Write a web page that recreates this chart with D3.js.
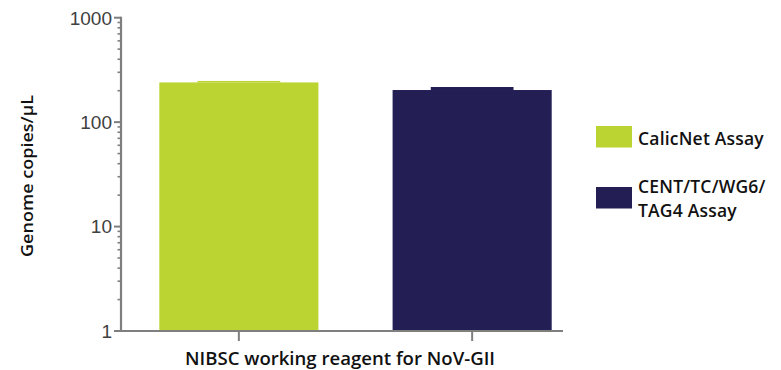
<!DOCTYPE html>
<html><head><meta charset="utf-8">
<script src="https://cdn.jsdelivr.net/npm/d3@7"></script>
<style>body{margin:0;background:#fff}svg{display:block}</style>
</head><body>
<script>
const categories = ["NIBSC working reagent for NoV-GII"];
const seriesNames = ["CalicNet Assay", "CENT/TC/WG6/TAG4 Assay"];
const seriesLabelLines = [["CalicNet Assay"], ["CENT/TC/WG6/", "TAG4 Assay"]];
const meanValues = [240, 203];
const upperValues = [248, 217];
const colors = ["#bcd432", "#231f54"];
const yTicks = [1, 10, 100, 1000];

const W = 781, H = 370;
const svg = d3.select("body").append("svg").attr("width", W).attr("height", H);

const y = d3.scaleLog().domain([1, 1000]).range([331, 17.7]);
const xBar = d3.scaleBand().domain(seriesNames).range([159.3, 551.7]).paddingInner(0.318).paddingOuter(0);
const axisColor = "#7f7f7f";

// bars
svg.selectAll("rect.bar").data(seriesNames).join("rect")
  .attr("class", "bar")
  .attr("x", d => xBar(d))
  .attr("width", xBar.bandwidth())
  .attr("y", (d, i) => y(meanValues[i]))
  .attr("height", (d, i) => y(1) - y(meanValues[i]))
  .attr("fill", (d, i) => colors[i]);

// error caps (same colour as bars)
const capW = xBar.bandwidth() * 0.52;
svg.selectAll("rect.cap").data(seriesNames).join("rect")
  .attr("class", "cap")
  .attr("x", d => xBar(d) + xBar.bandwidth() / 2 - capW / 2)
  .attr("width", capW)
  .attr("y", (d, i) => y(upperValues[i]))
  .attr("height", (d, i) => Math.max(1.5, y(meanValues[i]) - y(upperValues[i])))
  .attr("fill", (d, i) => colors[i]);

// y axis
const yAxisX = 121;
const yg = svg.append("g").attr("transform", `translate(${yAxisX},0)`);
const minor = [];
for (let d = 1; d < 1000; d *= 10) for (let k = 2; k <= 9; k++) minor.push(d * k);
yg.selectAll("line.minor").data(minor).join("line")
  .attr("x1", -3.5).attr("x2", 0).attr("y1", d => y(d)).attr("y2", d => y(d))
  .attr("stroke", axisColor).attr("stroke-width", 1.6);
yg.selectAll("line.major").data(yTicks).join("line")
  .attr("x1", -7).attr("x2", 0).attr("y1", d => y(d)).attr("y2", d => y(d))
  .attr("stroke", axisColor).attr("stroke-width", 2);
yg.append("line").attr("x1", 0).attr("x2", 0).attr("y1", y(1000) - 1).attr("y2", y(1) + 1)
  .attr("stroke", axisColor).attr("stroke-width", 2.2);
yg.selectAll("text.tl").data(yTicks).join("text")
  .attr("x", -9).attr("y", d => y(d)).attr("dy", "0.36em")
  .attr("text-anchor", "end")
  .attr("font-family", "Liberation Sans, Arial, sans-serif").attr("font-size", 19)
  .attr("fill", "#404040").text(d => d);

// x axis
svg.append("line").attr("x1", yAxisX).attr("x2", 563).attr("y1", y(1)).attr("y2", y(1))
  .attr("stroke", axisColor).attr("stroke-width", 2.2);
svg.selectAll("line.xt").data(seriesNames).join("line")
  .attr("x1", d => xBar(d) + xBar.bandwidth() / 2).attr("x2", d => xBar(d) + xBar.bandwidth() / 2)
  .attr("y1", y(1)).attr("y2", y(1) + 10)
  .attr("stroke", axisColor).attr("stroke-width", 2);
svg.append("text").attr("x", 340).attr("y", 365).attr("text-anchor", "middle")
  .attr("font-family", "Open Sans, sans-serif").attr("font-weight", 600).attr("font-size", 18.5)
  .attr("textLength", 310).attr("lengthAdjust", "spacingAndGlyphs")
  .attr("fill", "#111").text(categories[0]);

// y title
svg.append("text").attr("transform", "translate(33,176) rotate(-90)").attr("text-anchor", "middle")
  .attr("font-family", "Open Sans, sans-serif").attr("font-weight", 600).attr("font-size", 16.5).attr("fill", "#111")
  .attr("textLength", 162).attr("lengthAdjust", "spacingAndGlyphs")
  .text("Genome copies/µL");

// legend
const lg = svg.append("g");
const legendY = [126, 187];
seriesNames.forEach((s, i) => {
  lg.append("rect").attr("x", 596).attr("y", legendY[i]).attr("width", 36).attr("height", 21.5).attr("fill", colors[i]);
  const lines = seriesLabelLines[i];
  const t = lg.append("text").attr("font-family", "Open Sans, sans-serif").attr("font-weight", 600)
    .attr("font-size", 17.5).attr("letter-spacing", 0.2).attr("fill", "#111");
  const baseY = lines.length === 1 ? 145 : 193;
  lines.forEach((l, j) => t.append("tspan").attr("x", 638).attr("y", baseY + j * 24).text(l));
});
</script>
</body></html>
